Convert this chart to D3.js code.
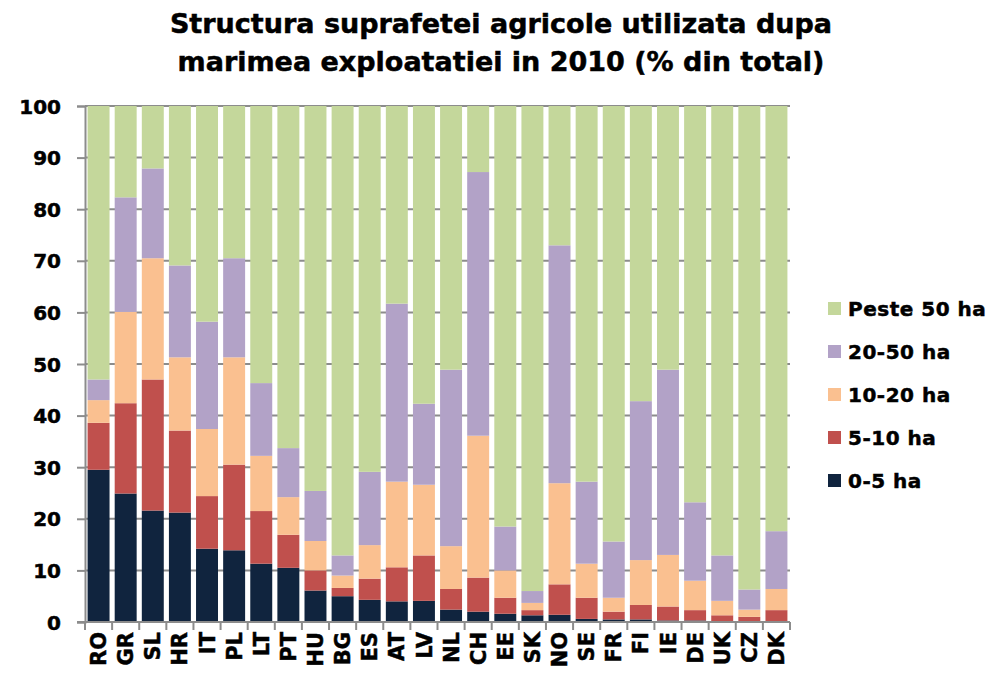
<!DOCTYPE html>
<html>
<head>
<meta charset="utf-8">
<script src="https://cdn.jsdelivr.net/npm/d3@7"></script>
<style>
  body { margin: 0; background: #fff; }
  #chart text { font-family: "DejaVu Sans", sans-serif; font-weight: bold; fill: #000; stroke: #000; stroke-width: 0.5px; }
  .grid line { stroke: #8c8c8c; stroke-width: 2px; }
  .axis path, .axis line { stroke: #8c8c8c; stroke-width: 2px; }
</style>
</head>
<body>
<div id="chart"></div>
<script>
// Countries in display order
var countries = ['RO','GR','SL','HR','IT','PL','LT','PT','HU','BG','ES','AT','LV','NL',
                 'CH','EE','SK','NO','SE','FR','FI','IE','DE','UK','CZ','DK'];

// Share of utilised agricultural area (% of total) by holding size
var ha0_5    = [29.5,24.9,21.6,21.2,14.2,13.9,11.3,10.5,6.1,5.0,4.3,4.0,4.1,2.4,2.0,1.6,1.3,1.4,0.6,0.5,0.5,0.3,0.3,0.1,0.1,0.1];
var ha5_10   = [9.1,17.5,25.4,15.9,10.2,16.6,10.2,6.4,3.9,1.6,4.1,6.6,8.8,4.0,6.6,3.1,1.0,5.9,4.1,1.5,2.8,2.7,2.0,1.2,0.9,2.2];
var ha10_20  = [4.4,17.7,23.5,14.2,13.0,20.8,10.7,7.3,5.7,2.4,6.5,16.6,13.7,8.3,27.5,5.3,1.4,19.6,6.6,2.7,8.7,10.0,5.7,2.8,1.4,4.1];
var ha20_50  = [4.0,22.2,17.4,17.8,20.8,19.2,14.1,9.5,9.7,3.9,14.2,34.5,15.7,34.2,51.1,8.5,2.3,46.1,15.9,10.9,30.8,35.9,15.2,8.8,3.9,11.2];
var haOver50 = [53.0,17.7,12.1,30.9,41.8,29.5,53.7,66.3,74.6,87.1,70.9,38.3,57.7,51.1,12.8,81.5,94.0,27.0,72.8,84.4,57.2,51.1,76.8,87.1,93.7,82.4];

var seriesNames  = ['0-5 ha','5-10 ha','10-20 ha','20-50 ha','Peste 50 ha'];
var seriesColors = ['#10243e','#c0504d','#fac090','#b2a2c7','#c4d79b'];
var yTicks = [0,10,20,30,40,50,60,70,80,90,100];

var titleLines = ['Structura suprafetei agricole utilizata dupa',
                  'marimea exploatatiei in 2010 (% din total)'];

var W = 1002, H = 684;
var margin = {top: 106, right: 212, bottom: 62, left: 85};
var width = W - margin.left - margin.right,
    height = H - margin.top - margin.bottom;

// build rows for the stack
var keys = ['s0','s1','s2','s3','s4'];
var seriesData = [ha0_5, ha5_10, ha10_20, ha20_50, haOver50];
var rows = countries.map(function(c, i){
  var r = {country: c};
  keys.forEach(function(k, j){ r[k] = seriesData[j][i]; });
  return r;
});
var stacked = d3.stack().keys(keys)(rows);

var x = d3.scaleBand()
  .domain(countries)
  .range([0, width])
  .paddingInner(0.19)
  .paddingOuter(0.095);

var y = d3.scaleLinear()
  .domain([0, 100])
  .range([height, 0]);

var svg = d3.select('#chart').append('svg')
  .attr('width', W)
  .attr('height', H);

// title
svg.append('g').attr('class', 'title')
  .selectAll('text')
  .data(titleLines)
.enter().append('text')
  .attr('x', 501)
  .attr('y', function(d, i){ return 33 + i * 38; })
  .attr('text-anchor', 'middle')
  .style('font-size', '27px')
  .style('stroke-width', '0.5px')
  .text(function(d){ return d; });

var g = svg.append('g')
  .attr('transform', 'translate(' + margin.left + ',' + margin.top + ')');

// gridlines
g.append('g').attr('class', 'grid')
  .selectAll('line')
  .data(yTicks.filter(function(d){ return d > 0; }))
.enter().append('line')
  .attr('x1', 0)
  .attr('x2', width)
  .attr('y1', function(d){ return y(d); })
  .attr('y2', function(d){ return y(d); });

// bars
g.append('g').attr('class', 'bars')
  .selectAll('g')
  .data(stacked)
.enter().append('g')
  .attr('fill', function(d, i){ return seriesColors[i]; })
.selectAll('rect')
  .data(function(d){ return d; })
.enter().append('rect')
  .attr('x', function(d){ return x(d.data.country); })
  .attr('y', function(d){ return y(d[1]); })
  .attr('width', x.bandwidth())
  .attr('height', function(d){ return y(d[0]) - y(d[1]); });

// y axis
var yAxis = g.append('g').attr('class', 'axis y')
  .call(d3.axisLeft(y).tickValues(yTicks).tickSize(8).tickPadding(16));
yAxis.selectAll('text').style('font-size', '20px').attr('dy', '0.35em');

// x axis: ticks sit between categories
var xAxis = g.append('g').attr('class', 'axis x')
  .attr('transform', 'translate(0,' + height + ')');
xAxis.append('line')
  .attr('x1', -8).attr('x2', width);
xAxis.selectAll('.tick')
  .data(d3.range(countries.length + 1))
.enter().append('line')
  .attr('class', 'tick')
  .attr('x1', function(i){ return i * x.step(); })
  .attr('x2', function(i){ return i * x.step(); })
  .attr('y1', 0)
  .attr('y2', 8);
xAxis.selectAll('text')
  .data(countries)
.enter().append('text')
  .attr('transform', function(d){
    return 'translate(' + (x(d) + x.bandwidth() / 2) + ',10) rotate(-90)';
  })
  .attr('text-anchor', 'end')
  .attr('dy', '0.36em')
  .style('font-size', '21px')
  .text(function(d){ return d; });

// legend, top entry is the last series
var legend = svg.append('g').attr('class', 'legend')
  .attr('transform', 'translate(828,309)')
  .selectAll('g')
  .data(d3.range(seriesNames.length).reverse())
.enter().append('g')
  .attr('transform', function(d, i){ return 'translate(0,' + i * 43 + ')'; });

legend.append('rect')
  .attr('y', -7)
  .attr('width', 13)
  .attr('height', 13)
  .attr('fill', function(d){ return seriesColors[d]; });

legend.append('text')
  .attr('x', 20)
  .attr('dy', '0.36em')
  .style('font-size', '20px')
  .style('letter-spacing', '0.5px')
  .text(function(d){ return seriesNames[d]; });
</script>
</body>
</html>
